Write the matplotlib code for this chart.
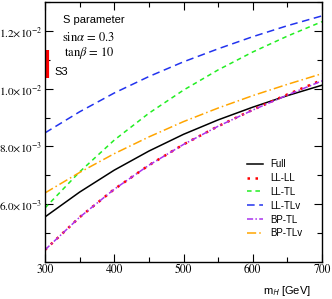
import matplotlib
matplotlib.use('Agg')
import matplotlib.pyplot as plt
from matplotlib.ticker import MultipleLocator, FixedLocator

plt.rcParams['font.family'] = ['Liberation Sans', 'DejaVu Sans']
plt.rcParams['mathtext.fontset'] = 'stix'

# m_H [GeV]
mh = [300, 350, 400, 450, 500, 550, 600, 650, 700]
# S parameter values (units of 1e-3)
full = [5.56, 6.42, 7.18, 7.84, 8.42, 8.92, 9.36, 9.76, 10.12]
ll_ll = [4.42, 5.55, 6.52, 7.35, 8.07, 8.70, 9.27, 9.80, 10.30]
ll_tl = [5.87, 7.12, 8.22, 9.15, 9.95, 10.65, 11.27, 11.82, 12.32]
ll_tlv = [8.47, 9.20, 9.85, 10.42, 10.93, 11.38, 11.80, 12.18, 12.52]
bp_tl = [4.42, 5.55, 6.52, 7.35, 8.07, 8.70, 9.26, 9.78, 10.27]
bp_tlv = [6.39, 7.10, 7.75, 8.33, 8.86, 9.33, 9.76, 10.15, 10.52]

# S3 band (x position, low, high)
s3_x = 303
s3_range = [10.37, 11.34]

ytick_vals = [6.0, 8.0, 10.0, 12.0]
ytick_labels = [r'6.0$\times$10$^{-3}$', r'8.0$\times$10$^{-3}$',
                r'1.0$\times$10$^{-2}$', r'1.2$\times$10$^{-2}$']
xtick_vals = [300, 400, 500, 600, 700]

fig = plt.figure(figsize=(3.32, 2.99), dpi=100)
ax = fig.add_axes([0.1355, 0.1237, 0.8345, 0.8696])

ax.plot(mh, full, color='black', lw=1.1, label='Full')
ax.plot(mh, ll_ll, color='red', lw=1.8, ls=(0, (1, 2.2)), label='LL-LL')
ax.plot(mh, ll_tl, color='#22ee22', lw=1.1, ls=(0, (3, 2.5)), label='LL-TL')
ax.plot(mh, ll_tlv, color='#2233ee', lw=1.1, ls=(0, (5, 3)), label='LL-TLv')
ax.plot(mh, bp_tl, color='#aa33ee', lw=1.1, ls=(0, (4, 1.5, 1, 1.5)), label='BP-TL')
ax.plot(mh, bp_tlv, color='orange', lw=1.1, ls=(0, (6, 2, 1, 2)), label='BP-TLv')

ax.vlines(s3_x, s3_range[0], s3_range[1], color='red', lw=3)

ax.set_xlim(300, 700)
ax.set_ylim(4.0, 13.0)
ax.xaxis.set_major_locator(FixedLocator(xtick_vals))
ax.xaxis.set_minor_locator(MultipleLocator(50))
ax.yaxis.set_major_locator(FixedLocator(ytick_vals))
ax.yaxis.set_minor_locator(MultipleLocator(1.0))
ax.set_yticklabels(ytick_labels, family='STIXGeneral', fontsize=8)
ax.set_xticklabels([str(v) for v in xtick_vals], family='STIXGeneral', fontsize=8.5)
ax.tick_params(which='both', direction='in', top=True, right=True)
ax.tick_params(which='major', length=6, width=0.8)
ax.tick_params(which='minor', length=3.5, width=0.8)
ax.tick_params(axis='y', which='major', pad=2)
ax.tick_params(axis='x', which='major', pad=1.5)
for s in ax.spines.values():
    s.set_linewidth(1.0)

ax.text(0.065, 0.931, 'S parameter', transform=ax.transAxes,
        fontsize=8, va='center')
ax.text(0.061, 0.862, r'sin$\alpha$ = 0.3', transform=ax.transAxes,
        fontsize=9, family='STIXGeneral', va='center')
ax.text(0.069, 0.804, r'tan$\beta$ = 10', transform=ax.transAxes,
        fontsize=9, family='STIXGeneral', va='center')
ax.text(0.036, 0.731, 'S3', transform=ax.transAxes, fontsize=8, va='center')

ax.text(0.874, -0.112, r'm$_{\mathsf{H}}$ [GeV]', transform=ax.transAxes,
        fontsize=8, ha='center', va='center')

ax.legend(loc='upper left', bbox_to_anchor=(0.729, 0.396), frameon=False,
          fontsize=7, handlelength=1.6, handletextpad=0.8,
          labelspacing=0.4, borderpad=0, borderaxespad=0)

fig.savefig('out.png', dpi=100)
